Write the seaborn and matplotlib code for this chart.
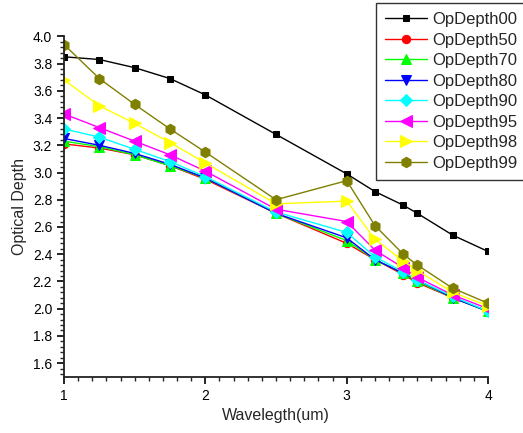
import matplotlib
matplotlib.use('Agg')
import matplotlib.pyplot as plt
from matplotlib.ticker import MultipleLocator
import pandas as pd
import seaborn as sns

wavelength = [1, 1.25, 1.5, 1.75, 2, 2.5, 3, 3.2, 3.4, 3.5, 3.75, 4]

op00 = [3.85, 3.83, 3.77, 3.69, 3.57, 3.28, 2.99, 2.86, 2.76, 2.70, 2.54, 2.42]
op50 = [3.21, 3.18, 3.13, 3.05, 2.95, 2.70, 2.48, 2.36, 2.25, 2.19, 2.08, 1.98]
op70 = [3.23, 3.19, 3.13, 3.05, 2.96, 2.70, 2.50, 2.36, 2.26, 2.20, 2.08, 1.98]
op80 = [3.25, 3.20, 3.14, 3.06, 2.96, 2.70, 2.52, 2.36, 2.26, 2.21, 2.08, 1.98]
op90 = [3.32, 3.26, 3.17, 3.08, 2.97, 2.71, 2.56, 2.38, 2.27, 2.21, 2.09, 1.98]
op95 = [3.43, 3.33, 3.23, 3.13, 3.01, 2.73, 2.64, 2.43, 2.30, 2.23, 2.10, 2.00]
op98 = [3.68, 3.49, 3.36, 3.22, 3.07, 2.77, 2.79, 2.51, 2.35, 2.28, 2.12, 2.02]
op99 = [3.94, 3.69, 3.50, 3.32, 3.15, 2.80, 2.94, 2.61, 2.40, 2.32, 2.15, 2.04]

series_names = ['OpDepth00', 'OpDepth50', 'OpDepth70', 'OpDepth80',
                'OpDepth90', 'OpDepth95', 'OpDepth98', 'OpDepth99']
series_values = [op00, op50, op70, op80, op90, op95, op98, op99]
colors = ['black', 'red', '#00ff00', 'blue', 'cyan', 'magenta', 'yellow', '#808000']
markers = ['s', 'o', '^', 'v', 'D', '<', '>', 'h']
sizes = [4.5, 6, 7, 7, 6.5, 8, 8, 7.5]

sns.set_style('ticks')
plt.rcParams['font.family'] = ['Liberation Sans', 'DejaVu Sans']

fig = plt.figure(figsize=(5.23, 4.33), dpi=100)
ax = fig.add_axes([0.1224, 0.130, 0.8107, 0.786])

for name, vals, c, m, ms in zip(series_names, series_values, colors, markers, sizes):
    df = pd.DataFrame({'Wavelength': wavelength, 'Depth': vals})
    sns.lineplot(data=df, x='Wavelength', y='Depth', ax=ax, color=c, marker=m,
                 markersize=ms, markeredgecolor=c, linewidth=1, label=name)

ax.set_xlim(1, 4)
ax.set_ylim(1.5, 4.0)
ax.xaxis.set_major_locator(MultipleLocator(1))
ax.xaxis.set_minor_locator(MultipleLocator(0.1))
ax.yaxis.set_minor_locator(MultipleLocator(0.04))
ax.set_yticks([1.6 + 0.2 * i for i in range(13)])
ax.set_yticklabels(['%.1f' % (1.6 + 0.2 * i) for i in range(13)])
ax.tick_params(which='major', direction='out', length=5, width=1.2, labelsize=10, colors='black')
ax.tick_params(which='minor', direction='out', length=3, width=1)
for s in ['top', 'right']:
    ax.spines[s].set_visible(False)
for s in ['left', 'bottom']:
    ax.spines[s].set_linewidth(1.3)
    ax.spines[s].set_color('#222222')

ax.set_xlabel('Wavelegth(um)', fontsize=11.5)
ax.set_ylabel('Optical Depth', fontsize=11.5)

ax.get_legend().remove()
handles, labels = ax.get_legend_handles_labels()
leg = fig.legend(handles, labels, loc='upper left', bbox_to_anchor=(376 / 523, 1 - 3 / 433),
                 fontsize=12, frameon=True, fancybox=False, borderaxespad=0,
                 labelspacing=0.33, handlelength=2.5, handletextpad=0.3, borderpad=0.55)
leg.get_frame().set_edgecolor('black')
leg.get_frame().set_linewidth(1)

fig.savefig('out.png', dpi=100)
